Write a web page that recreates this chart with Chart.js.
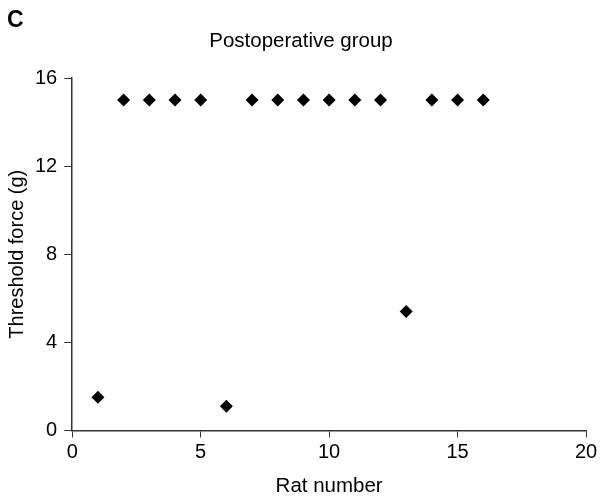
<!DOCTYPE html>
<html>
<head>
<meta charset="utf-8">
<script src="https://cdn.jsdelivr.net/npm/chart.js@4"></script>
<style>
  html, body { margin: 0; padding: 0; background: #fff; }
  #wrap { width: 602px; height: 499px; }
</style>
</head>
<body>
<div id="wrap"><canvas id="scatterChart"></canvas></div>
<script>
// rat number vs threshold force (g)
const ratNumbers = [1, 2, 3, 4, 5, 6, 7, 8, 9, 10, 11, 12, 13, 14, 15, 16];
const thresholdForce = [1.5, 15, 15, 15, 15, 1.1, 15, 15, 15, 15, 15, 15, 5.4, 15, 15, 15];
const xTicks = [0, 5, 10, 15, 20];
const yTicks = [0, 4, 8, 12, 16];

const fontFamily = '"Liberation Sans", Arial, sans-serif';

// panel letter and heading; the heading is centred on the whole canvas
const headingPlugin = {
    id: 'heading',
    afterDraw(chart) {
        const c = chart.ctx;
        c.save();
        c.fillStyle = '#000';
        c.textBaseline = 'middle';
        c.font = 'bold 23px ' + fontFamily;
        c.textAlign = 'left';
        c.fillText('C', 7, 21);
        c.font = '20.5px ' + fontFamily;
        c.textAlign = 'center';
        c.fillText('Postoperative group', chart.width / 2, 41);
        c.restore();
    }
};

document.addEventListener('DOMContentLoaded', function() {
    const ctx = document.getElementById('scatterChart').getContext('2d');
    const points = ratNumbers.map((r, i) => ({ x: r, y: thresholdForce[i] }));

    new Chart(ctx, {
        type: 'scatter',
        data: {
            datasets: [{
                data: points,
                pointStyle: 'rectRot',
                pointRadius: 6.5,
                pointHoverRadius: 6.5,
                backgroundColor: '#000',
                borderColor: '#000',
                borderWidth: 0
            }]
        },
        plugins: [headingPlugin],
        options: {
            responsive: true,
            maintainAspectRatio: false,
            animation: false,
            layout: { padding: { left: 5, right: 16, top: 78, bottom: 0 } },
            plugins: {
                legend: { display: false },
                tooltip: { enabled: false }
            },
            scales: {
                x: {
                    type: 'linear',
                    min: 0,
                    max: 20,
                    afterBuildTicks: axis => { axis.ticks = xTicks.map(v => ({ value: v })); },
                    grid: { drawOnChartArea: false, drawTicks: true, tickLength: 7, color: '#333' },
                    border: { display: true, color: '#333', width: 1.5 },
                    ticks: { color: '#000', font: { family: fontFamily, size: 20 }, padding: 3 },
                    title: {
                        display: true,
                        text: 'Rat number',
                        color: '#000',
                        font: { family: fontFamily, size: 20.5 },
                        padding: { top: 7, bottom: 0 }
                    }
                },
                y: {
                    min: 0,
                    max: 16,
                    afterBuildTicks: axis => { axis.ticks = yTicks.map(v => ({ value: v })); },
                    grid: { drawOnChartArea: false, drawTicks: true, tickLength: 8, color: '#333' },
                    border: { display: true, color: '#333', width: 1.5 },
                    ticks: { color: '#000', font: { family: fontFamily, size: 20 }, padding: 7 },
                    title: {
                        display: true,
                        text: 'Threshold force (g)',
                        color: '#000',
                        font: { family: fontFamily, size: 20 },
                        padding: { top: 0, bottom: -1 }
                    }
                }
            }
        }
    });
});
</script>
</body>
</html>
